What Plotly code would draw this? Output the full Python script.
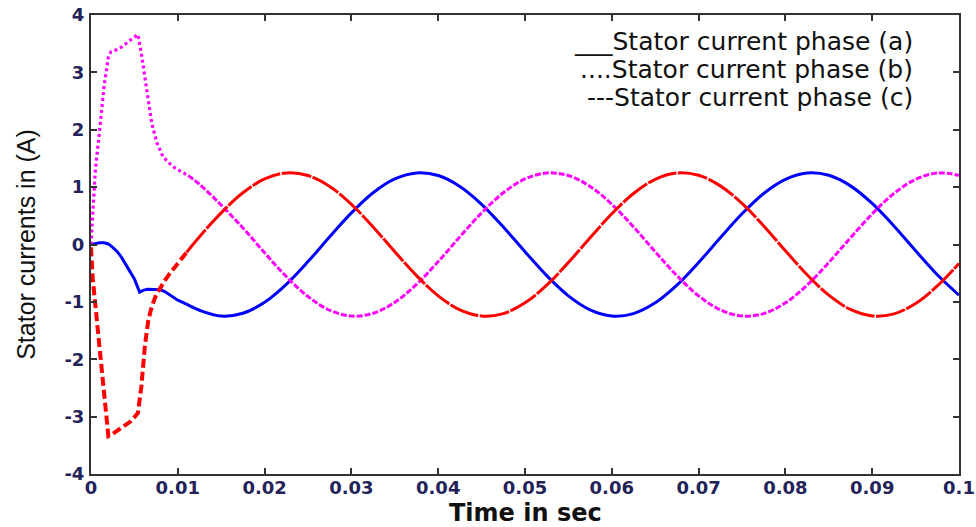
import plotly.graph_objects as go

# ---------------- data ----------------
T_STEADY = [0.0125, 0.015, 0.0175, 0.02, 0.0225, 0.025, 0.0275, 0.03, 0.0325, 0.035,
            0.0375, 0.04, 0.0425, 0.045, 0.0475, 0.05, 0.0525, 0.055, 0.0575, 0.06,
            0.0625, 0.065, 0.0675, 0.07, 0.0725, 0.075, 0.0775, 0.08, 0.0825, 0.085,
            0.0875, 0.09, 0.0925, 0.095, 0.0975, 0.1]

# phase (a) - blue
t_a_start = [0, 0.0005, 0.001, 0.0015, 0.002, 0.0025, 0.003, 0.0035, 0.004, 0.0045,
             0.005, 0.0056, 0.006, 0.0065, 0.007, 0.0075, 0.008, 0.0085, 0.009, 0.0095,
             0.010, 0.011]
i_a_start = [0.00, 0.02, 0.03, 0.03, 0.01, -0.05, -0.12, -0.22, -0.34, -0.47,
             -0.60, -0.83, -0.80, -0.78, -0.78, -0.78, -0.79, -0.82, -0.87, -0.92,
             -0.97, -1.04]
i_a_steady = [-1.146, -1.248, -1.199, -1.007, -0.694, -0.298, 0.135, 0.551, 0.901, 1.142,
              1.247, 1.202, 1.012, 0.701, 0.306, -0.126, -0.543, -0.895, -1.139, -1.246,
              -1.204, -1.017, -0.708, -0.314, 0.117, 0.535, 0.889, 1.135, 1.246, 1.206,
              1.022, 0.715, 0.323, -0.109, -0.527, -0.883]

# phase (b) - magenta
t_b_start = [0, 0.0002, 0.0005, 0.001, 0.0015, 0.002, 0.0023, 0.003, 0.0036, 0.0045,
             0.0054, 0.0058, 0.0064, 0.007, 0.0076, 0.0083, 0.009, 0.0097, 0.0105, 0.0112]
i_b_start = [0.00, 0.55, 1.30, 2.00, 2.75, 3.27, 3.36, 3.40, 3.45, 3.56,
             3.66, 3.33, 2.75, 2.11, 1.77, 1.53, 1.42, 1.33, 1.26, 1.20]
i_b_steady = [1.05, 0.687, 0.289, -0.143, -0.559, -0.907, -1.146, -1.248, -1.199, -1.007,
              -0.694, -0.298, 0.135, 0.551, 0.901, 1.142, 1.247, 1.202, 1.012, 0.701,
              0.306, -0.126, -0.543, -0.895, -1.139, -1.246, -1.204, -1.017, -0.708, -0.314,
              0.117, 0.535, 0.889, 1.135, 1.246, 1.206]

# phase (c) - red
t_c_start = [0, 0.0002, 0.0005, 0.001, 0.0014, 0.0018, 0.002, 0.0025, 0.003, 0.0035,
             0.004, 0.0045, 0.005, 0.0054, 0.0058, 0.0062, 0.0066, 0.007, 0.0075, 0.008,
             0.0085, 0.009, 0.0095, 0.010, 0.011]
i_c_start = [-0.05, -0.60, -1.05, -1.78, -2.36, -3.00, -3.34, -3.30, -3.25, -3.20,
             -3.15, -3.09, -3.01, -2.94, -2.48, -1.78, -1.32, -1.08, -0.88, -0.74,
             -0.63, -0.52, -0.42, -0.32, -0.14]
i_c_steady = [0.135, 0.551, 0.901, 1.142, 1.247, 1.202, 1.012, 0.701, 0.306, -0.126,
              -0.543, -0.895, -1.139, -1.246, -1.204, -1.017, -0.708, -0.314, 0.117, 0.535,
              0.889, 1.135, 1.246, 1.206, 1.022, 0.715, 0.323, -0.109, -0.527, -0.883,
              -1.132, -1.245, -1.209, -1.027, -0.723, -0.331]

x_tickvals = [0, 0.01, 0.02, 0.03, 0.04, 0.05, 0.06, 0.07, 0.08, 0.09, 0.1]
x_ticktext = ["0", "0.01", "0.02", "0.03", "0.04", "0.05", "0.06", "0.07", "0.08", "0.09", "0.1"]
y_tickvals = [-4, -3, -2, -1, 0, 1, 2, 3, 4]
y_ticktext = ["-4", "-3", "-2", "-1", "0", "1", "2", "3", "4"]

x_title = "Time in sec"
y_title = "Stator currents in (A)"
legend_lines = ["___Stator current phase (a)",
                "....Stator current phase (b)",
                "---Stator current phase (c)"]

# ---------------- figure ----------------
fig = go.Figure()


def add_phase(t_start, i_start, i_steady, color, start_line, steady_line):
    n = len(t_start)
    t_all = t_start + T_STEADY
    i_all = i_start + i_steady
    # transient part: straight segments (sharp corners)
    fig.add_trace(go.Scatter(x=t_all[:n], y=i_all[:n], mode="lines",
                             line=dict(color=color, **start_line), showlegend=False))
    # steady part: smooth sinusoid through the read points
    fig.add_trace(go.Scatter(x=t_all[n - 1:], y=i_all[n - 1:], mode="lines",
                             line=dict(color=color, shape="spline", smoothing=1.0, **steady_line),
                             showlegend=False))


add_phase(t_a_start, i_a_start, i_a_steady, "#0000ff",
          dict(width=3), dict(width=3))
add_phase(t_b_start, i_b_start, i_b_steady, "#ff00ff",
          dict(width=3.2, dash="3px,3px"), dict(width=3, dash="6px,2px"))
add_phase(t_c_start, i_c_start, i_c_steady, "#ff0000",
          dict(width=4, dash="9px,4px"), dict(width=3, dash="30px,1.5px"))

tick_font = dict(family="DejaVu Sans", size=18, color="#23235a", weight="bold")
axis_common = dict(showline=True, linecolor="#333333", linewidth=2, mirror="ticks",
                   ticks="inside", ticklen=6, tickwidth=1.5, tickcolor="#333333",
                   showgrid=False, zeroline=False, tickfont=tick_font, automargin=False)

fig.update_xaxes(range=[0, 0.1], tickvals=x_tickvals, ticktext=x_ticktext,
                 ticklabelstandoff=-4, **axis_common)
fig.update_yaxes(range=[-4, 4], tickvals=y_tickvals, ticktext=y_ticktext,
                 ticklabelstandoff=1,
                 title=dict(text=y_title, standoff=22,
                            font=dict(family="Liberation Sans", size=25, color="#111111")),
                 **axis_common)

# x-axis title placed below the tick labels
fig.add_annotation(text=x_title, xref="paper", yref="paper", x=0.5, y=-0.085,
                   xanchor="center", yanchor="middle", showarrow=False,
                   font=dict(family="DejaVu Sans", size=24, color="#111111", weight="bold"))

legend_y = [0.9412, 0.8802, 0.8192]
for txt, yy in zip(legend_lines, legend_y):
    fig.add_annotation(text=txt, xref="paper", yref="paper", x=0.9493, y=yy,
                       xanchor="right", yanchor="middle", showarrow=False,
                       font=dict(family="DejaVu Sans", size=25, color="#111111"))

fig.update_layout(width=976, height=527, autosize=False,
                  margin=dict(l=91, r=17, t=15, b=53),
                  plot_bgcolor="white", paper_bgcolor="white", showlegend=False)

fig.write_html("out.html")
